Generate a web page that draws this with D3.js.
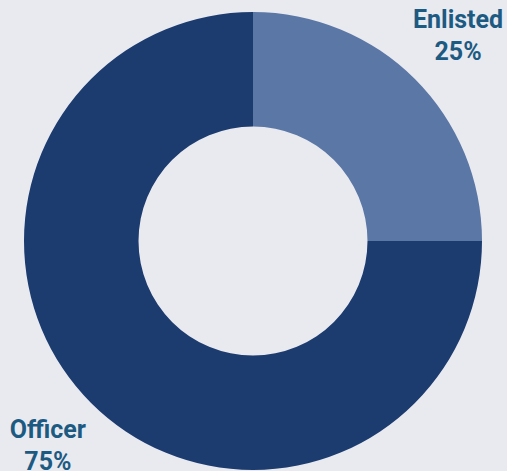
<!DOCTYPE html>
<html>
<head>
<meta charset="utf-8">
<script src="https://cdn.jsdelivr.net/npm/d3@7"></script>
<style>
  html, body { margin: 0; padding: 0; background: #e9eaf0; }
  svg { display: block; }
</style>
</head>
<body>
<div class="chart"></div>
<script>
const width = 507;
const height = 471;

// data
const categories = ["Enlisted", "Officer"];
const values = [25, 75];
const colors = ["#5b77a6", "#1c3b6f"];

const cx = 253;
const cy = 241;
const outerR = 229;
const innerR = 114.5;
const labelR = 290;

const svg = d3.select(".chart")
              .append("svg")
              .attr("width", width)
              .attr("height", height);

const g = svg.append("g")
             .attr("transform", `translate(${cx}, ${cy})`);

const pie = d3.pie().sort(null).value((d) => d.value);
const datos = categories.map((c, i) => ({ name: c, value: values[i], color: colors[i] }));
const arcs = pie(datos);

const arc = d3.arc().innerRadius(innerR).outerRadius(outerR);
const labelArc = d3.arc().innerRadius(labelR).outerRadius(labelR);

g.selectAll("path")
 .data(arcs)
 .join("path")
 .attr("d", arc)
 .attr("fill", (d) => d.data.color);

const total = d3.sum(values);

const labels = g.selectAll("text")
                .data(arcs)
                .join("text")
                .attr("transform", (d) => `translate(${labelArc.centroid(d)})`)
                .attr("text-anchor", "middle")
                .attr("font-family", "Roboto, sans-serif")
                .attr("font-weight", "bold")
                .attr("font-size", 25)
                .attr("fill", "#1d5a82");

labels.append("tspan")
      .attr("x", 0)
      .attr("y", -8)
      .text((d) => d.data.name);

labels.append("tspan")
      .attr("x", 0)
      .attr("y", 24)
      .text((d) => Math.round(d.data.value / total * 100) + "%");
</script>
</body>
</html>
